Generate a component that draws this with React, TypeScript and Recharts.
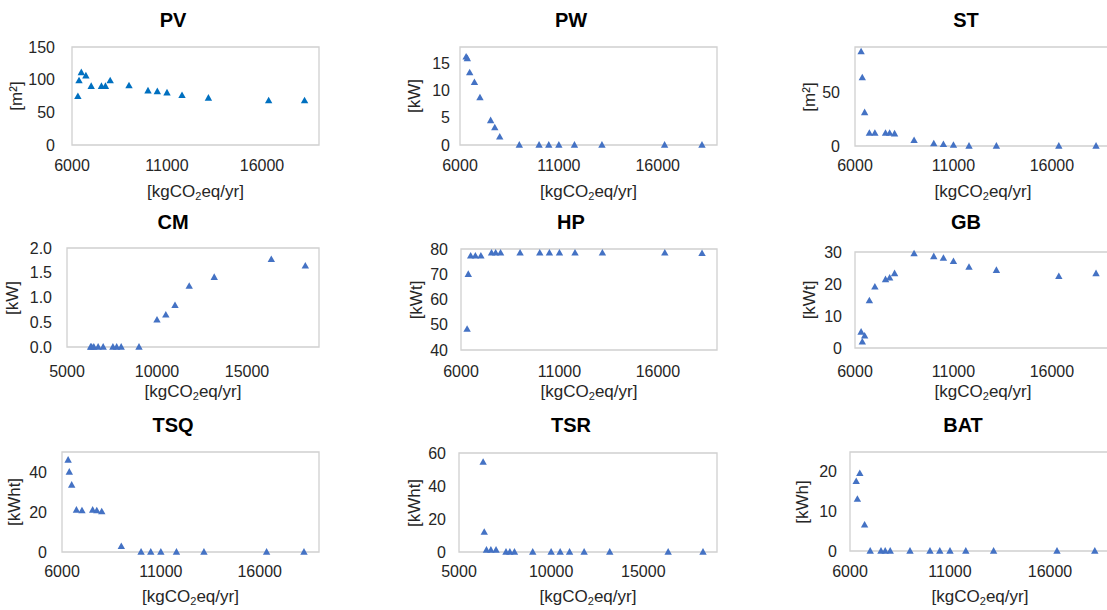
import React from "react";
import { ScatterChart, Scatter, XAxis, YAxis, ReferenceArea } from "recharts";

// emissions of the 16 pareto solutions [kgCO2eq/yr]
const emissions = [6310, 6370, 6490, 6730, 7010, 7550, 7760, 8010, 9000, 10000, 10490, 11000, 11790, 13180, 16350, 18240];

const pvArea = [74.5, 98.5, 111, 106, 90, 90, 90, 98.5, 91, 83, 82, 80, 76, 72, 68, 68];
const pwPower = [16.2, 15.9, 13.3, 11.5, 8.7, 4.5, 3.2, 1.5, 0, 0, 0, 0, 0, 0, 0, 0];
const stArea = [87.7, 63.6, 31.2, 12, 12, 12, 12, 11.4, 5.2, 2.2, 1.5, 0.9, 0, 0, 0, 0];
const cmPower = [0, 0, 0, 0, 0, 0, 0, 0, 0, 0.55, 0.65, 0.84, 1.23, 1.41, 1.77, 1.64];
const hpPower = [48.3, 70, 77.3, 77.3, 77.3, 78.5, 78.5, 78.5, 78.5, 78.5, 78.5, 78.5, 78.5, 78.5, 78.5, 78.3];
const gbPower = [5, 1.9, 3.8, 14.8, 19.1, 21.4, 21.9, 23.3, 29.5, 28.6, 28.1, 27.1, 25.3, 24.3, 22.4, 23.3];
const tsqEnergy = [46, 40, 33.5, 21, 20.7, 21, 20.7, 20.2, 2.8, 0, 0, 0, 0, 0, 0, 0];
const tsrEnergy = [54.5, 12.1, 1.2, 1.2, 1.2, 0, 0, 0, 0, 0, 0, 0, 0, 0, 0, 0];
const batEnergy = [17.6, 13.1, 19.6, 6.6, 0, 0, 0, 0, 0, 0, 0, 0, 0, 0, 0, 0];

const ticks6000 = [6000, 11000, 16000];
const ticks5000 = [5000, 10000, 15000];

const FONT = "'Liberation Sans', Arial, sans-serif";
const TEXT = "#262626";
const AXIS_W = 80;
const TOP_PAD = 14;
const RIGHT_PAD = 4;
const X_AXIS_H = 40;

const Triangle = (props: any) => {
  const { cx, cy, fill } = props;
  if (cx == null || cy == null) return null;
  return <path d={`M${cx},${cy - 3.9} L${cx + 3.7},${cy + 2.7} L${cx - 3.7},${cy + 2.7} Z`} fill={fill} />;
};

const co2 = (
  <span>
    [kgCO<sub style={{ fontSize: 11, verticalAlign: "-3px" }}>2</sub>eq/yr]
  </span>
);

interface Panel {
  title: string;
  unit: React.ReactNode;
  values: number[];
  color: string;
  xDomain: [number, number];
  xTicks: number[];
  yDomain: [number, number];
  yTicks: number[];
  decimals?: number;
  plot: { x: number; y: number; w: number; h: number };
  titleX: number;
  titleY: number;
  unitX: number;
  yGap: number;
  xTickY: number;
  xTitleY: number;
}

const panels: Panel[] = [
  { title: "PV", unit: "[m²]", values: pvArea, color: "#0070C0", xDomain: [6000, 19000], xTicks: ticks6000, yDomain: [0, 150], yTicks: [0, 50, 100, 150],
    plot: { x: 72, y: 47, w: 247, h: 98 }, titleX: 173, titleY: 20, unitX: 17, yGap: 17, xTickY: 165, xTitleY: 191.7 },
  { title: "PW", unit: "[kW]", values: pwPower, color: "#4472C4", xDomain: [6000, 19000], xTicks: ticks6000, yDomain: [0, 18], yTicks: [0, 5, 10, 15],
    plot: { x: 460, y: 47, w: 257, h: 98 }, titleX: 571, titleY: 20, unitX: 415, yGap: 10, xTickY: 165, xTitleY: 191.7 },
  { title: "ST", unit: "[m²]", values: stArea, color: "#4472C4", xDomain: [6000, 19000], xTicks: ticks6000, yDomain: [0, 92], yTicks: [0, 50],
    plot: { x: 855, y: 47, w: 256, h: 99 }, titleX: 966, titleY: 20, unitX: 810, yGap: 15, xTickY: 165, xTitleY: 191.7 },
  { title: "CM", unit: "[kW]", values: cmPower, color: "#4472C4", xDomain: [5000, 19000], xTicks: ticks5000, yDomain: [0, 2], yTicks: [0, 0.5, 1, 1.5, 2], decimals: 1,
    plot: { x: 67, y: 248, w: 252, h: 99 }, titleX: 173, titleY: 222, unitX: 13, yGap: 15, xTickY: 371.7, xTitleY: 391.7 },
  { title: "HP", unit: "[kWt]", values: hpPower, color: "#4472C4", xDomain: [6000, 19000], xTicks: ticks6000, yDomain: [40, 80], yTicks: [40, 50, 60, 70, 80],
    plot: { x: 461, y: 249, w: 256, h: 101 }, titleX: 571, titleY: 222, unitX: 417, yGap: 13, xTickY: 371.7, xTitleY: 391.7 },
  { title: "GB", unit: "[kWt]", values: gbPower, color: "#4472C4", xDomain: [6000, 19000], xTicks: ticks6000, yDomain: [0, 30], yTicks: [0, 10, 20, 30],
    plot: { x: 855, y: 252, w: 256, h: 96 }, titleX: 966, titleY: 222, unitX: 810, yGap: 13, xTickY: 371.7, xTitleY: 391.7 },
  { title: "TSQ", unit: "[kWht]", values: tsqEnergy, color: "#4472C4", xDomain: [6000, 19000], xTicks: ticks6000, yDomain: [0, 50], yTicks: [0, 20, 40],
    plot: { x: 62, y: 452, w: 257, h: 100 }, titleX: 173, titleY: 425, unitX: 15, yGap: 15, xTickY: 571.7, xTitleY: 596.7 },
  { title: "TSR", unit: "[kWht]", values: tsrEnergy, color: "#4472C4", xDomain: [5000, 19000], xTicks: ticks5000, yDomain: [0, 60], yTicks: [0, 20, 40, 60],
    plot: { x: 459, y: 453, w: 258, h: 99 }, titleX: 571, titleY: 425, unitX: 415, yGap: 13, xTickY: 571.7, xTitleY: 596.7 },
  { title: "BAT", unit: "[kWh]", values: batEnergy, color: "#4472C4", xDomain: [6000, 19000], xTicks: ticks6000, yDomain: [0, 25], yTicks: [0, 10, 20],
    plot: { x: 850, y: 452, w: 260, h: 99 }, titleX: 963, titleY: 425, unitX: 803, yGap: 13, xTickY: 571.7, xTitleY: 596.7 },
];

function PanelChart({ p }: { p: Panel }) {
  const data = emissions.map((x, i) => ({ x, y: p.values[i] }));
  const tickStyle = { fontSize: 16, fill: TEXT, fontFamily: FONT };
  const plotBottom = p.plot.y + p.plot.h;
  return (
    <>
      <div style={{ position: "absolute", left: p.titleX, top: p.titleY, transform: "translate(-50%,-50%)", fontSize: 20, fontWeight: "bold", color: "#000", whiteSpace: "nowrap" }}>
        {p.title}
      </div>
      <div style={{ position: "absolute", left: p.unitX, top: p.plot.y + p.plot.h / 2, transform: "translate(-50%,-50%) rotate(-90deg)", fontSize: 17, color: TEXT, whiteSpace: "nowrap" }}>
        {p.unit}
      </div>
      <div style={{ position: "absolute", left: p.plot.x + p.plot.w / 2, top: p.xTitleY, transform: "translate(-50%,-50%)", fontSize: 17, color: TEXT, whiteSpace: "nowrap" }}>
        {co2}
      </div>
      <div style={{ position: "absolute", left: p.plot.x - AXIS_W, top: p.plot.y - TOP_PAD }}>
        <ScatterChart
          width={AXIS_W + p.plot.w + RIGHT_PAD}
          height={TOP_PAD + p.plot.h + X_AXIS_H}
          margin={{ top: TOP_PAD, right: RIGHT_PAD, bottom: 0, left: 0 }}
        >
          <XAxis type="number" dataKey="x" domain={p.xDomain} ticks={p.xTicks} interval={0}
            axisLine={false} tickLine={false} tickSize={0} tickMargin={p.xTickY - 5.7 - plotBottom}
            height={X_AXIS_H} tick={tickStyle} />
          <YAxis type="number" dataKey="y" domain={p.yDomain} ticks={p.yTicks} interval={0}
            axisLine={false} tickLine={false} tickSize={0} tickMargin={p.yGap} width={AXIS_W} tick={tickStyle}
            tickFormatter={(v: number) => (p.decimals ? v.toFixed(p.decimals) : String(v))} />
          <ReferenceArea x1={p.xDomain[0]} x2={p.xDomain[1]} y1={p.yDomain[0]} y2={p.yDomain[1]}
            fill="none" fillOpacity={0} stroke="#d0d0d0" strokeWidth={1.3} ifOverflow="extendDomain" />
          <Scatter data={data} fill={p.color} shape={<Triangle />} isAnimationActive={false} />
        </ScatterChart>
      </div>
    </>
  );
}

export default function App() {
  return (
    <div style={{ position: "fixed", left: 0, top: 0, width: 1107, height: 610, overflow: "hidden", background: "#fff", fontFamily: FONT }}>
      {panels.map((p) => (
        <PanelChart key={p.title} p={p} />
      ))}
    </div>
  );
}
